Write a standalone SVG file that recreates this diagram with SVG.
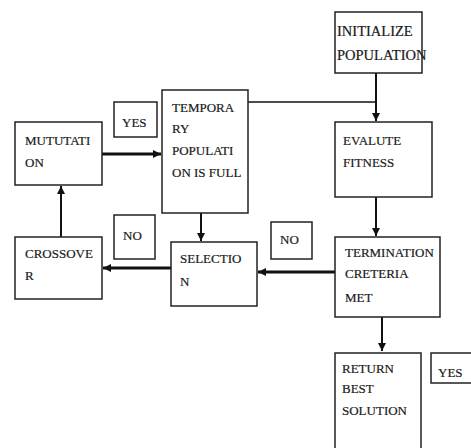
<svg xmlns="http://www.w3.org/2000/svg" width="471" height="448" viewBox="0 0 471 448">
<defs>
<style>
.box{fill:#fff;stroke:#222;stroke-width:1.5}
.t{font-family:"Liberation Serif","Times New Roman",serif;font-size:13px;fill:#1a1a1a;stroke:#1a1a1a;stroke-width:0.2}
.big{font-size:14.5px}
.c{stroke:#111;fill:none}
.thick{stroke-width:3}
.thin{stroke-width:2}
.line{stroke-width:1.5}
</style>
<marker id="ah" viewBox="0 0 10 10" refX="10" refY="5" markerWidth="8" markerHeight="8" markerUnits="userSpaceOnUse" orient="auto">
<path d="M0,0 L10,5 L0,10 Z" fill="#111"/>
</marker>
</defs>
<rect width="471" height="448" fill="#fff"/>
<g id="connectors">
<path class="c thin" d="M376,73 V121" marker-end="url(#ah)"/>
<path class="c line" d="M248,102 H376"/>
<path class="c thin" d="M376,197 V236" marker-end="url(#ah)"/>
<path class="c thick" d="M102,154 H161" marker-end="url(#ah)"/>
<path class="c thin" d="M61,237 V186" marker-end="url(#ah)"/>
<path class="c thin" d="M201,213 V241" marker-end="url(#ah)"/>
<path class="c thick" d="M171,268 H103" marker-end="url(#ah)"/>
<path class="c thick" d="M335,272 H258" marker-end="url(#ah)"/>
<path class="c thin" d="M382,317 V351" marker-end="url(#ah)"/>
</g>
<g id="init">
<rect class="box" x="335" y="12" width="87" height="61"/>
<text class="t big" x="337" y="36">INITIALIZE</text>
<text class="t big" x="337" y="60">POPULATION</text>
</g>
<g id="evaluate">
<rect class="box" x="335" y="122" width="97" height="75"/>
<text class="t" x="343" y="145">EVALUTE</text>
<text class="t" x="343" y="167">FITNESS</text>
</g>
<g id="temp">
<rect class="box" x="162" y="90" width="86" height="123"/>
<text class="t" x="172" y="112">TEMPORA</text>
<text class="t" x="172" y="133">RY</text>
<text class="t" x="172" y="155">POPULATI</text>
<text class="t" x="172" y="177">ON IS FULL</text>
</g>
<g id="yes1">
<rect class="box" x="114" y="102" width="43" height="35"/>
<text class="t" x="122" y="127">YES</text>
</g>
<g id="mutation">
<rect class="box" x="15" y="122" width="87" height="63"/>
<text class="t" x="25" y="145">MUTUTATI</text>
<text class="t" x="25" y="167">ON</text>
</g>
<g id="crossover">
<rect class="box" x="15" y="237" width="87" height="62"/>
<text class="t" x="25" y="258">CROSSOVE</text>
<text class="t" x="25" y="280">R</text>
</g>
<g id="no1">
<rect class="box" x="114" y="215" width="41" height="44"/>
<text class="t" x="123" y="240">NO</text>
</g>
<g id="selection">
<rect class="box" x="171" y="242" width="86" height="64"/>
<text class="t" x="180" y="263">SELECTIO</text>
<text class="t" x="180" y="286">N</text>
</g>
<g id="no2">
<rect class="box" x="271" y="222" width="41" height="37"/>
<text class="t" x="280" y="244">NO</text>
</g>
<g id="termination">
<rect class="box" x="335" y="237" width="105" height="80"/>
<text class="t" x="345" y="257">TERMINATION</text>
<text class="t" x="345" y="278">CRETERIA</text>
<text class="t" x="345" y="302">MET</text>
</g>
<g id="return">
<rect class="box" x="335" y="353" width="86" height="100"/>
<text class="t" x="342" y="373">RETURN</text>
<text class="t" x="342" y="393">BEST</text>
<text class="t" x="342" y="415">SOLUTION</text>
</g>
<g id="yes2">
<rect class="box" x="431" y="353" width="45" height="30"/>
<text class="t" x="438" y="377">YES</text>
</g>
</svg>
